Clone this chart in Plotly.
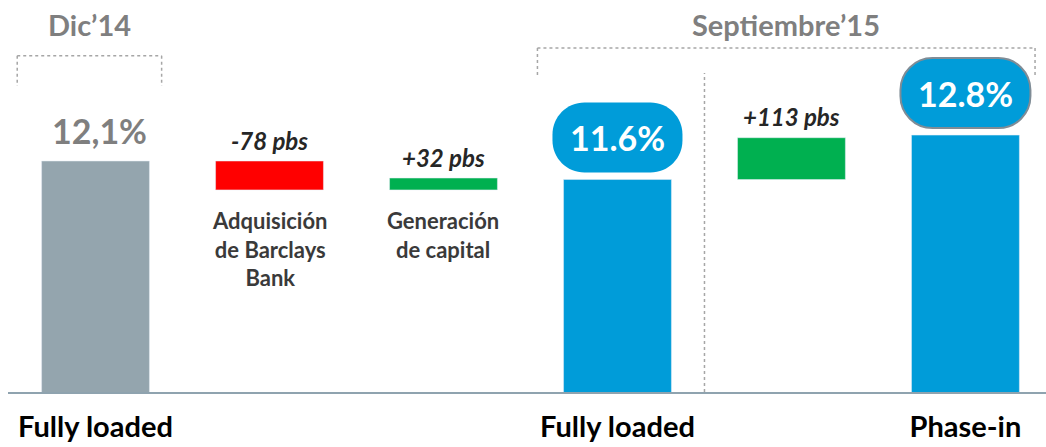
import plotly.graph_objects as go

# CET1 ratio bridge, Dic'14 -> Septiembre'15
stages = ["Fully loaded Dic’14", "Adquisición de Barclays Bank", "Generación de capital",
          "Fully loaded Sep’15", "Ajuste phase-in", "Phase-in Sep’15"]
ratio_dic14 = 12.1            # %
impact_pbs = [-78, 32]        # basis points
impact_labels = ["Adquisición<br>de Barclays<br>Bank", "Generación<br>de capital"]
ratio_sep15_fl = 11.6         # %
phase_in_pbs = 113            # basis points
ratio_sep15_pi = 12.8         # %
bottom_labels = ["Fully loaded", "Fully loaded", "Phase-in"]
bottom_pos = [0, 3, 5]
period_labels = ["Dic’14", "Septiembre’15"]

GRAY = "#94A5AE"
RED = "#FF0000"
GREEN = "#00B050"
BLUE = "#009CD9"
TXT_GRAY = "#7F7F7F"
TXT_DARK = "#3A3A3A"
FONT = "Lato"
BAR_W = 0.62

fig = go.Figure()

# totals
fig.add_bar(x=[0], y=[ratio_dic14], marker_color=GRAY, width=BAR_W)
fig.add_bar(x=[3, 5], y=[ratio_sep15_fl, ratio_sep15_pi], marker_color=BLUE, width=BAR_W)

# floating movements
deltas = [v / 100 for v in impact_pbs]
bases = [ratio_dic14, ratio_dic14 + deltas[0]]
fig.add_bar(x=[1], y=[deltas[0]], base=[bases[0]], marker_color=RED, width=BAR_W)
fig.add_bar(x=[2], y=[deltas[1]], base=[bases[1]], marker_color=GREEN, width=BAR_W)
pi_delta = phase_in_pbs / 100
fig.add_bar(x=[4], y=[pi_delta], base=[ratio_sep15_fl], marker_color=GREEN, width=BAR_W)

ann = []
shapes = []

# movement labels
moves = [(1, bases[0], deltas[0], impact_pbs[0]),
         (2, bases[1], deltas[1], impact_pbs[1]),
         (4, ratio_sep15_fl, pi_delta, phase_in_pbs)]
for x, b, d, pbs in moves:
    ann.append(dict(x=x, y=max(b, b + d), yshift=21, text=f"{pbs:+d} pbs", showarrow=False,
                    yanchor="middle",
                    font=dict(family=FONT, size=24, color="#262626", weight="bold", style="italic")))
for (x, b, d, _), lbl in zip(moves[:2], impact_labels):
    ann.append(dict(x=x, y=min(b, b + d), yshift=-15, text=lbl, showarrow=False,
                    yanchor="top",
                    font=dict(family=FONT, size=22, color=TXT_DARK, weight="bold")))

# starting ratio label
ann.append(dict(x=0, y=ratio_dic14, yshift=31, xshift=4,
                text=f"{ratio_dic14:.1f}%".replace(".", ","), showarrow=False, yanchor="middle",
                font=dict(family=FONT, size=34, color=TXT_GRAY, weight="bold")))


def pill(w, h, r, cy):
    x0, x1 = -w / 2, w / 2
    y0, y1 = cy - h / 2, cy + h / 2
    k = 0.5523 * r
    return (f"M{x0 + r},{y0} L{x1 - r},{y0} "
            f"C{x1 - r + k},{y0} {x1},{y0 + r - k} {x1},{y0 + r} "
            f"L{x1},{y1 - r} C{x1},{y1 - r + k} {x1 - r + k},{y1} {x1 - r},{y1} "
            f"L{x0 + r},{y1} C{x0 + r - k},{y1} {x0},{y1 - r + k} {x0},{y1 - r} "
            f"L{x0},{y0 + r} C{x0},{y0 + r - k} {x0 + r - k},{y0} {x0 + r},{y0} Z")


# bubble labels on the Sep'15 ratios
for x, v, border in [(3, ratio_sep15_fl, None), (5, ratio_sep15_pi, "#7F8C96")]:
    shapes.append(dict(type="path", xref="x", yref="y", xsizemode="pixel", ysizemode="pixel",
                       xanchor=x, yanchor=v, path=pill(130, 70, 32, 42),
                       fillcolor=BLUE,
                       line=dict(color=border or BLUE, width=2 if border else 0), layer="above"))
    ann.append(dict(x=x, y=v, yshift=42, text=f"{v:.1f}%", showarrow=False, yanchor="middle",
                    font=dict(family=FONT, size=34, color="white", weight="bold")))

# period brackets
dot = dict(color="#A6A6A6", width=1.5, dash="dot")
for (xa, xb, ytop, ybot), title in zip([(-0.45, 0.38, 0.955, 0.869), (2.54, 5.40, 0.977, 0.892)],
                                       period_labels):
    shapes.append(dict(type="line", xref="x", yref="paper", x0=xa, x1=xb, y0=ytop, y1=ytop, line=dot))
    shapes.append(dict(type="line", xref="x", yref="paper", x0=xa, x1=xa, y0=ytop, y1=ybot, line=dot))
    shapes.append(dict(type="line", xref="x", yref="paper", x0=xb, x1=xb, y0=ytop, y1=ybot, line=dot))
    ann.append(dict(x=(xa + xb) / 2, y=1.045, xref="x", yref="paper", text=title, showarrow=False,
                    yanchor="middle",
                    font=dict(family=FONT, size=29, color=TXT_GRAY, weight="bold")))

# divider between fully loaded and phase-in
shapes.append(dict(type="line", xref="x", yref="paper", x0=3.5, x1=3.5, y0=0, y1=0.906, line=dot))

fig.update_layout(
    width=1046, height=447,
    margin=dict(l=8, r=0, t=40, b=55),
    barmode="overlay",
    showlegend=False,
    plot_bgcolor="white", paper_bgcolor="white",
    annotations=ann, shapes=shapes,
    xaxis=dict(range=[-0.503, 5.463], showgrid=False, zeroline=False, automargin=False,
               showline=True, linecolor="#8FA3AF", linewidth=2,
               tickvals=bottom_pos, ticktext=bottom_labels, ticks="",
               ticklabelstandoff=8,
               tickfont=dict(family=FONT, size=29, color="black", weight="bold")),
    yaxis=dict(range=[5.857, 15.371], visible=False, showgrid=False, zeroline=False,
               automargin=False),
)

fig.write_html("out.html")
